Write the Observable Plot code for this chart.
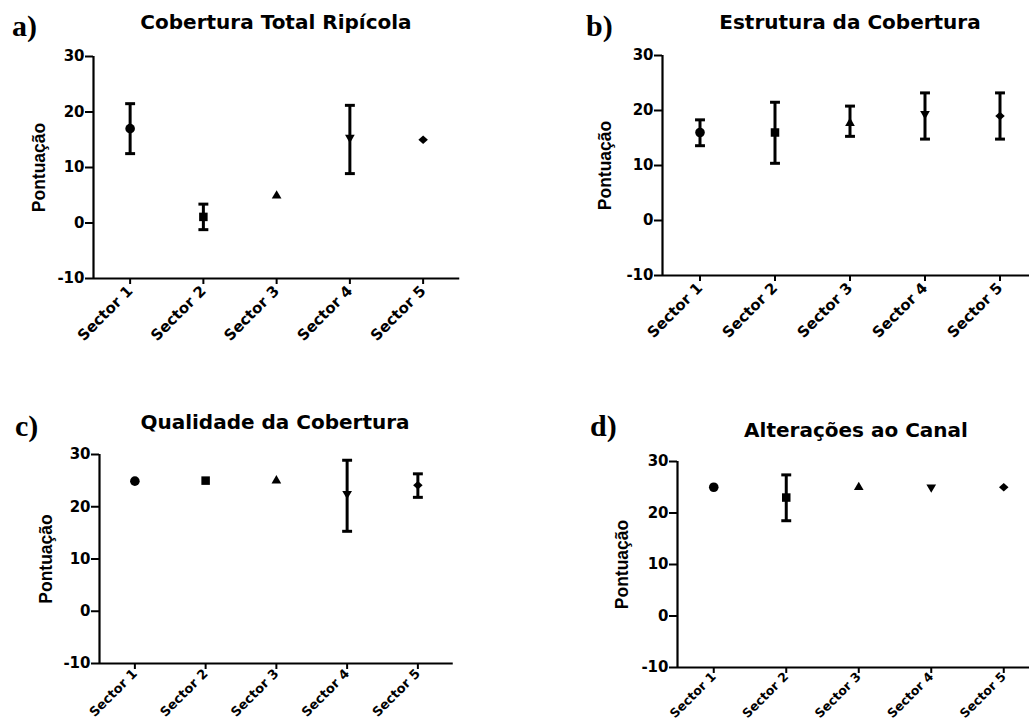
<!DOCTYPE html>
<html><head><meta charset="utf-8">
<script src="https://cdn.jsdelivr.net/npm/d3@7"></script>
<script src="https://cdn.jsdelivr.net/npm/@observablehq/plot@0.6"></script>
<style>
body{margin:0;background:#fff;}
#chart{position:relative;width:1029px;height:726px;background:#fff;overflow:hidden;}
.panel{position:absolute;}
</style></head><body><div id="chart"></div>
<script>
const sectors = ["Sector 1", "Sector 2", "Sector 3", "Sector 4", "Sector 5"];
const yTicks = [-10, 0, 10, 20, 30];
const yLabel = "Pontuação";
const titles = ["Cobertura Total Ripícola", "Estrutura da Cobertura", "Qualidade da Cobertura", "Alterações ao Canal"];
const letters = ["a)", "b)", "c)", "d)"];

// a) Cobertura Total Ripícola
const meanA = [17, 1.1, 4.9, 15.4, 15.0];
const lowA  = [12.5, -1.2, null, 8.9, null];
const highA = [21.5, 3.4, null, 21.2, null];
// b) Estrutura da Cobertura
const meanB = [16, 16, 17.7, 19.4, 19.0];
const lowB  = [13.6, 10.4, 15.3, 14.8, 14.8];
const highB = [18.3, 21.5, 20.8, 23.2, 23.2];
// c) Qualidade da Cobertura
const meanC = [24.9, 25, 25, 22.5, 24.1];
const lowC  = [null, null, null, 15.3, 21.8];
const highC = [null, null, null, 28.9, 26.3];
// d) Alterações ao Canal
const meanD = [25, 23, 25, 25, 25];
const lowD  = [null, 18.5, null, null, null];
const highD = [null, 27.4, null, null, null];

const layout = [
  {left:0,   top:40,  w:500, h:310, ml:93,  mt:16, mb:72, step:73.25, lo:61, tx:276, ty:29,  lx:12,  ly:36,  xfs:15,   xpad:4},
  {left:520, top:40,  w:509, h:310, ml:142, mt:15, mb:75, step:75,    lo:64, tx:850, ty:29,  lx:586, ly:36,  xfs:15,   xpad:4},
  {left:0,   top:400, w:500, h:326, ml:99,  mt:54, mb:63, step:70.75, lo:60, tx:275, ty:429, lx:15,  ly:436, xfs:13,   xpad:2},
  {left:520, top:400, w:509, h:326, ml:157, mt:61, mb:59, step:72.5,  lo:62, tx:856, ty:437, lx:590, ly:436, xfs:12.5, xpad:1}
];

const sqrt3 = Math.sqrt(3);
const triUp = {draw(ctx, size){ const h = Math.sqrt(size)*0.57, H = h*sqrt3; ctx.moveTo(0,-2*H/3); ctx.lineTo(h,H/3); ctx.lineTo(-h,H/3); ctx.closePath(); }};
const triDown = {draw(ctx, size){ const h = Math.sqrt(size)*0.57, H = h*sqrt3; ctx.moveTo(0,2*H/3); ctx.lineTo(h,-H/3); ctx.lineTo(-h,-H/3); ctx.closePath(); }};
const diamond = {draw(ctx, size){ const a = Math.sqrt(size)*0.56, b = Math.sqrt(size)*0.5; ctx.moveTo(0,-b); ctx.lineTo(a,0); ctx.lineTo(0,b); ctx.lineTo(-a,0); ctx.closePath(); }};
const capBar = {draw(ctx, size){ const w = Math.sqrt(size)/2; ctx.moveTo(-w,0); ctx.lineTo(w,0); }};

function panel(cfg, mean, low, high){
  const rows = sectors.map((s,i)=>({sector:s, pos:i+1, mean:mean[i], low:low[i], high:high[i]}));
  const bars = rows.filter(d => d.low != null);
  const svg = Plot.plot({
    width: cfg.w, height: cfg.h,
    marginLeft: cfg.ml, marginTop: cfg.mt, marginBottom: cfg.mb, marginRight: 0,
    style: {fontFamily:"DejaVu Sans", fontWeight:"bold", fontSize:"15px", color:"black", background:"transparent", overflow:"visible"},
    x: {domain:[0.5,5.5], range:[cfg.ml, cfg.ml + 5*cfg.step]},
    y: {domain:[-10,30]},
    symbol: {domain: sectors, range: ["circle", "square", triUp, triDown, diamond]},
    marks: [
      Plot.ruleX([0.5], {strokeWidth:2.2}),
      Plot.ruleY([-10], {x1:0.5, x2:5.5, strokeWidth:2.2}),
      Plot.axisY(yTicks, {tickSize:8, tickPadding:1, strokeWidth:2, tickFormat: d => String(d), label:yLabel, labelAnchor:"center", labelOffset:cfg.lo}),
      Plot.axisX(sectors.map((s,i)=>i+1), {tickSize:6, tickPadding:cfg.xpad, strokeWidth:2, tickRotate:-45, tickFormat: i => sectors[i-1], label:null}),
      Plot.ruleX(bars, {x:"pos", y1:"low", y2:"high", strokeWidth:3}),
      Plot.dot(bars, {x:"pos", y:"low", symbol:capBar, r:5.6, stroke:"black", fill:"none", strokeWidth:3}),
      Plot.dot(bars, {x:"pos", y:"high", symbol:capBar, r:5.6, stroke:"black", fill:"none", strokeWidth:3}),
      Plot.dot(rows, {x:"pos", y:"mean", symbol:"sector", fill:"black", stroke:"none", r:4.8})
    ]
  });
  const s = d3.select(svg);
  s.selectAll('g[aria-label="x-axis tick label"] text').style("font-size", cfg.xfs + "px");
  s.selectAll('g[aria-label="y-axis label"] text')
    .style("font-size", "17.5px").style("font-weight", "bold")
    .style("font-family", "'Liberation Sans', Arial, sans-serif")
    .text(yLabel);
  const div = document.createElement("div");
  div.className = "panel";
  div.style.left = cfg.left + "px";
  div.style.top = cfg.top + "px";
  div.appendChild(svg);
  document.getElementById("chart").appendChild(div);
}

panel(layout[0], meanA, lowA, highA);
panel(layout[1], meanB, lowB, highB);
panel(layout[2], meanC, lowC, highC);
panel(layout[3], meanD, lowD, highD);

const over = d3.select("#chart").append("svg")
  .attr("width", 1029).attr("height", 726)
  .style("position","absolute").style("left","0px").style("top","0px");
layout.forEach((cfg, i) => {
  over.append("text").attr("x", cfg.tx).attr("y", cfg.ty)
    .attr("text-anchor","middle").attr("font-family","DejaVu Sans").attr("font-weight","bold")
    .attr("font-size", 20).attr("fill","black").text(titles[i]);
  over.append("text").attr("x", cfg.lx).attr("y", cfg.ly)
    .attr("font-family","Liberation Serif").attr("font-weight","bold")
    .attr("font-size", 30).attr("fill","black").text(letters[i]);
});
</script></body></html>
